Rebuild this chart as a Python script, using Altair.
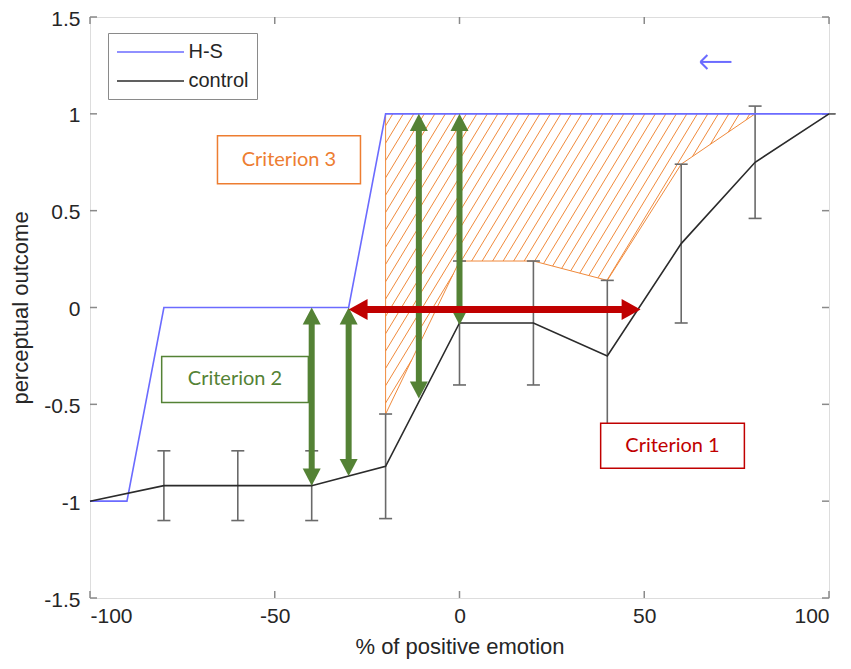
import altair as alt
import pandas as pd
import numpy as np

# ---------------- data ----------------
hs_x = [-100, -90, -80, -70, -60, -50, -40, -30, -20, -10, 0, 10, 20, 30, 40, 50, 60, 70, 80, 90, 100]
hs_y = [-1, -1, 0, 0, 0, 0, 0, 0, 1, 1, 1, 1, 1, 1, 1, 1, 1, 1, 1, 1, 1]

ctrl_x = [-100, -80, -60, -40, -20, 0, 20, 40, 60, 80, 100]
ctrl_y = [-1.0, -0.92, -0.92, -0.92, -0.82, -0.08, -0.08, -0.25, 0.33, 0.75, 1.0]
ctrl_lo = [None, -1.10, -1.10, -1.10, -1.09, -0.40, -0.40, -0.64, -0.08, 0.46, 1.0]
ctrl_hi = [None, -0.74, -0.74, -0.74, -0.55, 0.24, 0.24, 0.14, 0.74, 1.04, 1.0]

# criterion arrows
green_x = [-40, -30, -11, 0]
green_top = [0, 0, 1, 1]
green_bottom = [-0.92, -0.87, -0.47, -0.09]
red_x = [-30, 49]
red_y = -0.01

# criterion boxes
box_text = ["Criterion 3", "Criterion 2", "Criterion 1"]
box_x1 = [-65.5, -80.6, 38.2]
box_x2 = [-26.8, -40.9, 77.1]
box_y1 = [0.887, -0.253, -0.598]
box_y2 = [0.639, -0.490, -0.830]
box_color = ["#ED7D31", "#548235", "#C00000"]

# small blue arrow (top right)
blue_arrow_x = [65.2, 73.6]
blue_arrow_y = 1.268

x_ticks = [-100, -50, 0, 50, 100]
y_ticks = [-1.5, -1, -0.5, 0, 0.5, 1, 1.5]

BLUE = "#6b6bff"
BLACK = "#2b2b2b"
GRAY = "#6a6a6a"
ORANGE = "#F08A3C"
GREEN = "#548235"
RED = "#C00000"
AXIS = "#8a8a8a"
TXT = "#262626"

W, H = 739, 581
xs = alt.Scale(domain=[-100, 100], nice=False, zero=False)
ys = alt.Scale(domain=[-1.5, 1.5], nice=False, zero=False)

# ---------------- hatch (region where H-S exceeds control upper CI) ----------------
hx = [x for x, h in zip(ctrl_x, ctrl_hi) if h is not None and -20 <= x <= 80]
hl = [min(h, 1.0) for x, h in zip(ctrl_x, ctrl_hi) if h is not None and -20 <= x <= 80]

px_per_x = W / 200.0
px_per_y = H / 3.0
m = 1.65 * px_per_x / px_per_y          # hatch slope in data units
dc = m * (10.5 / px_per_x)              # spacing between hatch lines

def piece_interval(xa, xb, la, lb, c):
    s = (lb - la) / (xb - xa)
    lo, hi = xa, xb
    k = m - s
    r = la - s * xa - c
    if abs(k) < 1e-12:
        if r > 0:
            return None
    elif k > 0:
        lo = max(lo, r / k)
    else:
        hi = min(hi, r / k)
    hi = min(hi, (1 - c) / m)
    if hi - lo > 1e-9:
        return (lo, hi)
    return None

c_min = min(l - m * x for x, l in zip(hx, hl))
c_max = 1 - m * hx[0]
segs = []
c = c_min + dc * 0.5
while c < c_max:
    ivs = []
    for i in range(len(hx) - 1):
        iv = piece_interval(hx[i], hx[i + 1], hl[i], hl[i + 1], c)
        if iv:
            if ivs and abs(ivs[-1][1] - iv[0]) < 1e-6:
                ivs[-1] = (ivs[-1][0], iv[1])
            else:
                ivs.append(iv)
    for a, b in ivs:
        segs.append({"x": a, "y": c + m * a, "x2": b, "y2": c + m * b})
    c += dc
hatch_df = pd.DataFrame(segs)

border_df = pd.DataFrame({"x": [hx[0]] + hx, "y": [1.0] + hl,
                          "o": list(range(len(hx) + 1))})

# ---------------- tables ----------------
lines_df = pd.concat([
    pd.DataFrame({"x": hs_x, "y": hs_y, "series": "H-S"}),
    pd.DataFrame({"x": ctrl_x, "y": ctrl_y, "series": "control"}),
])
err_df = pd.DataFrame({"x": ctrl_x, "lo": ctrl_lo, "hi": ctrl_hi}).dropna()

green_df = pd.DataFrame({"x": green_x, "top": green_top, "bottom": green_bottom})
green_heads = pd.concat([
    pd.DataFrame({"x": green_x, "y": green_top, "angle": 0}),
    pd.DataFrame({"x": green_x, "y": green_bottom, "angle": 180}),
])
red_df = pd.DataFrame({"x": [red_x[0]], "x2": [red_x[1]], "y": [red_y]})
red_heads = pd.DataFrame({"x": red_x, "y": [red_y, red_y], "angle": [270, 90]})

box_df = pd.DataFrame({"text": box_text, "x1": box_x1, "x2": box_x2,
                       "y1": box_y1, "y2": box_y2, "color": box_color})
box_df["xc"] = (box_df["x1"] + box_df["x2"]) / 2
box_df["yc"] = (box_df["y1"] + box_df["y2"]) / 2

xt_df = pd.DataFrame({"v": x_ticks})
yt_df = pd.DataFrame({"v": y_ticks})
ba_df = pd.DataFrame({"x": [blue_arrow_x[0]], "x2": [blue_arrow_x[1]], "y": [blue_arrow_y]})

# ---------------- layers ----------------
X = lambda f="x", **k: alt.X(f, type="quantitative", scale=xs, **k)
Y = lambda f="y", **k: alt.Y(f, type="quantitative", scale=ys, **k)

x_axis = alt.Axis(values=x_ticks, ticks=False, tickSize=0, domain=False, grid=False,
                  labelExpr="datum.value + ''", labelFontSize=21, labelFont="Liberation Sans",
                  labelColor=TXT, labelPadding=7, title="% of positive emotion",
                  titleFontSize=22, titleFont="Liberation Sans", titleFontWeight="normal",
                  titleColor=TXT, titlePadding=10)
y_axis = alt.Axis(values=y_ticks, ticks=False, tickSize=0, domain=False, grid=False,
                  labelExpr="datum.value + ''", labelFontSize=21, labelFont="Liberation Sans",
                  labelColor=TXT, labelPadding=10, labelOffset=2, title="perceptual outcome",
                  titleFontSize=22, titleFont="Liberation Sans", titleFontWeight="normal",
                  titleColor=TXT, titlePadding=11)

hatch = alt.Chart(hatch_df).mark_rule(color=ORANGE, strokeWidth=1).encode(
    x=X("x", axis=x_axis), y=Y("y", axis=y_axis), x2="x2", y2="y2")

border = alt.Chart(border_df).mark_line(color=ORANGE, strokeWidth=1).encode(
    x=X(), y=Y(), order="o:Q")

err_rule = alt.Chart(err_df).mark_rule(color=GRAY, strokeWidth=1.6).encode(
    x=X(), y=Y("lo"), y2="hi")
cap_lo = alt.Chart(err_df).mark_tick(color=GRAY, orient="horizontal", size=13,
                                     thickness=1.6, opacity=1).encode(x=X(), y=Y("lo"))
cap_hi = alt.Chart(err_df).mark_tick(color=GRAY, orient="horizontal", size=13,
                                     thickness=1.6, opacity=1).encode(x=X(), y=Y("hi"))

lines = alt.Chart(lines_df).mark_line(strokeWidth=1.6).encode(
    x=X(), y=Y(),
    color=alt.Color("series:N",
                    scale=alt.Scale(domain=["H-S", "control"], range=[BLUE, BLACK]),
                    legend=alt.Legend(title=None, orient="none", legendX=18, legendY=16,
                                      symbolType="M-3.35,0L3.35,0", symbolSize=400,
                                      symbolStrokeWidth=1.6, symbolOffset=23.5,
                                      labelFontSize=20,
                                      labelFont="Liberation Sans", labelColor=TXT,
                                      strokeColor=AXIS, fillColor="white", padding=8,
                                      rowPadding=8, labelOffset=27)),
    detail="series:N")

green_shaft = alt.Chart(green_df).mark_rule(color=GREEN, strokeWidth=6,
                                            yOffset=12, y2Offset=-12).encode(
    x=X(), y=Y("top"), y2="bottom")
green_head = alt.Chart(green_heads).mark_point(
    shape="M0,0L-1,1.9L1,1.9Z", size=324, filled=True, color=GREEN, opacity=1).encode(
    x=X(), y=Y(), angle=alt.Angle("angle:Q", scale=None))

red_shaft = alt.Chart(red_df).mark_rule(color=RED, strokeWidth=7,
                                        xOffset=14, x2Offset=-14).encode(
    x=X(), x2="x2", y=Y())
red_head = alt.Chart(red_heads).mark_point(
    shape="M0,0L-1,1.8L1,1.8Z", size=441, filled=True, color=RED, opacity=1).encode(
    x=X(), y=Y(), angle=alt.Angle("angle:Q", scale=None))

boxes = alt.Chart(box_df).mark_rect(fill="white", strokeWidth=1.5).encode(
    x=X("x1"), x2="x2", y=Y("y1"), y2="y2", stroke=alt.Stroke("color:N", scale=None))
box_labels = alt.Chart(box_df).mark_text(font="Lato", fontSize=20, align="center",
                                         baseline="middle").encode(
    x=X("xc"), y=Y("yc"), text="text:N", color=alt.Color("color:N", scale=None))

ba_shaft = alt.Chart(ba_df).mark_rule(color=BLUE, strokeWidth=2).encode(
    x=X(), x2="x2", y=Y())
ba_h1 = alt.Chart(ba_df).mark_rule(color=BLUE, strokeWidth=2, x2Offset=7, y2Offset=-7).encode(
    x=X(), x2="x:Q", y=Y(), y2="y:Q")
ba_h2 = alt.Chart(ba_df).mark_rule(color=BLUE, strokeWidth=2, x2Offset=7, y2Offset=7).encode(
    x=X(), x2="x:Q", y=Y(), y2="y:Q")

tk = dict(color=AXIS, strokeWidth=1.5)
tick_b = alt.Chart(xt_df).mark_rule(y2Offset=-7, **tk).encode(
    x=X("v"), y=alt.datum(-1.5), y2=alt.datum(-1.5))
tick_t = alt.Chart(xt_df).mark_rule(y2Offset=7, **tk).encode(
    x=X("v"), y=alt.datum(1.5), y2=alt.datum(1.5))
tick_l = alt.Chart(yt_df).mark_rule(x2Offset=7, **tk).encode(
    y=Y("v"), x=alt.datum(-100), x2=alt.datum(-100))
tick_r = alt.Chart(yt_df).mark_rule(x2Offset=-7, **tk).encode(
    y=Y("v"), x=alt.datum(100), x2=alt.datum(100))

chart = alt.layer(
    hatch, border, tick_b, tick_t, tick_l, tick_r,
    err_rule, cap_lo, cap_hi, lines,
    green_shaft, green_head, red_shaft, red_head,
    boxes, box_labels, ba_shaft, ba_h1, ba_h2,
).properties(
    width=W, height=H,
    padding={"left": 82, "top": 9, "right": 10, "bottom": 61},
    autosize=alt.AutoSizeParams(type="none"),
).configure_view(
    stroke=AXIS, strokeWidth=1.5
).configure(background="white")

chart.save("out.html", embed_options={"renderer": "svg", "actions": False})
